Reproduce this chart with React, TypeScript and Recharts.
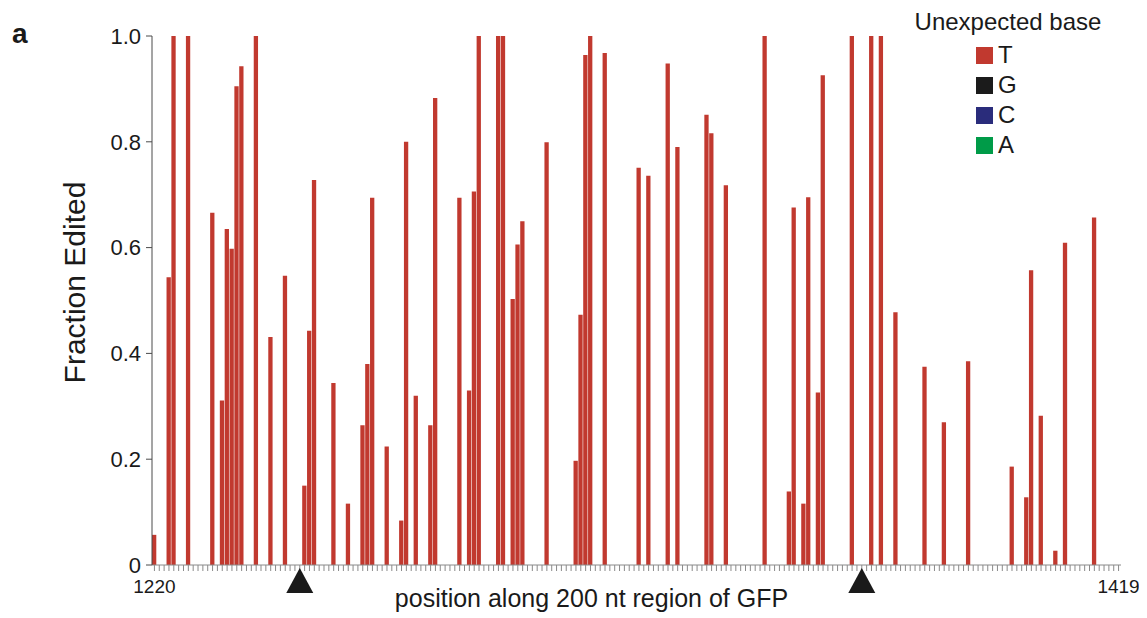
import { Bar, BarChart, Legend, XAxis, YAxis } from "recharts";

const THEME = {
  bar: "#C1392F",
  axis: "#4A4A4A",
  xTick: "#8A8A8A",
  text: "#1A1A1A",
  font: "'Liberation Sans', Arial, Helvetica, sans-serif",
};

// 200 nt window of GFP
const START = 1220;
const END = 1419;
const POSITIONS = Array.from({ length: END - START + 1 }, (_, i) => START + i);

// positions with an unexpected T and the fraction edited there
const EDITED_POS = [
  1220, 1223, 1224, 1227, 1232, 1234, 1235, 1236, 1237, 1238, 1241, 1244, 1247,
  1251, 1252, 1253, 1257, 1260, 1263, 1264, 1265, 1268, 1271, 1272, 1274, 1277,
  1278, 1283, 1285, 1286, 1287, 1291, 1292, 1294, 1295, 1296, 1301, 1307, 1308,
  1309, 1310, 1313, 1320, 1322, 1326, 1328, 1334, 1335, 1338, 1346, 1351, 1352,
  1354, 1355, 1357, 1358, 1364, 1368, 1370, 1373, 1379, 1383, 1388, 1397, 1400,
  1401, 1403, 1406, 1408, 1414,
];
const EDITED_FRACTION = [
  0.057, 0.544, 1.0, 1.0, 0.666, 0.311, 0.635, 0.598, 0.905, 0.943, 1.0, 0.431, 0.547,
  0.15, 0.443, 0.728, 0.344, 0.116, 0.264, 0.38, 0.694, 0.224, 0.084, 0.8, 0.32, 0.264,
  0.883, 0.694, 0.33, 0.706, 1.0, 1.0, 1.0, 0.503, 0.606, 0.65, 0.799, 0.197, 0.473,
  0.964, 1.0, 0.968, 0.751, 0.736, 0.948, 0.79, 0.851, 0.816, 0.718, 1.0, 0.139, 0.676,
  0.116, 0.695, 0.326, 0.926, 1.0, 1.0, 1.0, 0.478, 0.375, 0.27, 0.385, 0.186, 0.128,
  0.557, 0.282, 0.027, 0.609, 0.657,
];

const Y_TICKS = [0, 0.2, 0.4, 0.6, 0.8, 1.0];
const X_LABELS = [START, END];
const MARKERS = [1250, 1366];

const BASES = [
  { name: "T", color: "#C1392F" },
  { name: "G", color: "#1B1B1B" },
  { name: "C", color: "#2A2C7B" },
  { name: "A", color: "#009B48" },
];

const data = POSITIONS.map((pos) => {
  const k = EDITED_POS.indexOf(pos);
  return { pos, T: k >= 0 ? EDITED_FRACTION[k] : 0 };
});

function PositionTick({ x, y, payload }: any) {
  const v = payload.value;
  if (MARKERS.includes(v)) {
    return (
      <path
        d={`M${x},${y - 3} L${x + 13.5},${y + 22} L${x - 13.5},${y + 22} Z`}
        fill="#1A1A1A"
      />
    );
  }
  if (X_LABELS.includes(v)) {
    return (
      <text x={x} y={y + 22} textAnchor="middle" fontSize={19} fill={THEME.text} fontFamily={THEME.font}>
        {v}
      </text>
    );
  }
  return null;
}

function BaseLegend() {
  return (
    <div style={{ fontFamily: THEME.font, color: THEME.text, width: 210 }}>
      <div style={{ fontSize: 24, lineHeight: "28px", textAlign: "center", marginBottom: 4 }}>
        Unexpected base
      </div>
      {BASES.map((b) => (
        <div key={b.name} style={{ display: "flex", alignItems: "center", height: 30, paddingLeft: 73 }}>
          <span style={{ width: 17, height: 17, background: b.color, marginRight: 5 }} />
          <span style={{ fontSize: 24, lineHeight: "30px" }}>{b.name}</span>
        </div>
      ))}
    </div>
  );
}

export default function App() {
  return (
    <div style={{ position: "relative", width: 1139, height: 610, fontFamily: THEME.font }}>
      <div
        style={{
          position: "absolute",
          left: 4,
          top: 12,
          fontSize: 28,
          lineHeight: "28px",
          fontWeight: 700,
          color: THEME.text,
        }}
      >
        a
      </div>
      <BarChart
        width={1139}
        height={610}
        data={data}
        margin={{ top: 28, right: 26, left: 64, bottom: 0 }}
        barSize={4.3}
      >
        <XAxis
          dataKey="pos"
          interval={0}
          height={53}
          stroke={THEME.xTick}
          tickSize={6}
          tickMargin={0}
          tick={<PositionTick />}
          label={{
            content: ({ viewBox }: any) => (
              <text
                x={viewBox.x + viewBox.width / 2 - 45}
                y={viewBox.y + 42}
                textAnchor="middle"
                fontSize={25}
                fill={THEME.text}
                fontFamily={THEME.font}
              >
                position along 200 nt region of GFP
              </text>
            ),
          }}
        />
        <YAxis
          width={80}
          domain={[0, 1]}
          ticks={Y_TICKS}
          stroke={THEME.axis}
          tickSize={6}
          tickMargin={5}
          tick={{ fill: THEME.text, fontSize: 22, fontFamily: THEME.font }}
          tickFormatter={(v: number) => (v === 0 ? "0" : v.toFixed(1))}
          label={{
            content: ({ viewBox }: any) => {
              const cx = viewBox.x + 13;
              const cy = viewBox.y + viewBox.height / 2 - 18;
              return (
                <text
                  x={cx}
                  y={cy}
                  transform={`rotate(-90, ${cx}, ${cy})`}
                  textAnchor="middle"
                  fontSize={30}
                  fill={THEME.text}
                  fontFamily={THEME.font}
                >
                  Fraction Edited
                </text>
              );
            },
          }}
        />
        <Legend
          layout="horizontal"
          verticalAlign="middle"
          align="center"
          content={<BaseLegend />}
          wrapperStyle={{ top: 0, left: 895, width: 210 }}
        />
        <Bar dataKey="T" fill={THEME.bar} isAnimationActive={false} />
      </BarChart>
    </div>
  );
}
